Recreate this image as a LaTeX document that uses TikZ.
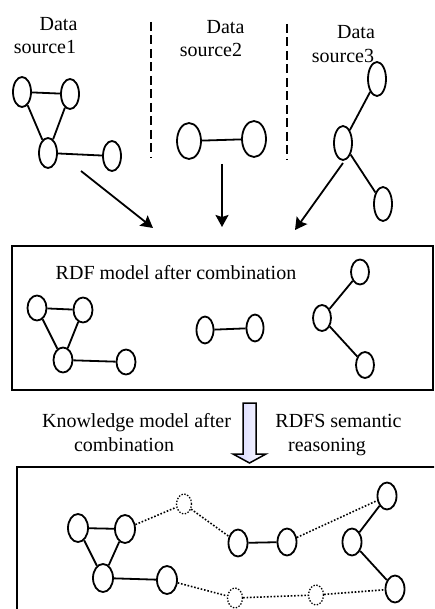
\documentclass[tikz,border=0pt]{standalone}
\usepackage{fontspec}
\setmainfont{Liberation Serif}
\usetikzlibrary{shapes,arrows,positioning,calc,arrows.meta}

\tikzset{
  vtx/.style={ellipse, draw, line width=1.8pt, inner sep=0pt, minimum width=18pt, minimum height=30pt},
  ghost/.style={vtx, line width=1.3pt, dash pattern=on 1.4pt off 1.6pt, minimum width=15pt, minimum height=20pt},
  link/.style={line width=1.8pt},
  dlink/.style={line width=1.6pt, dash pattern=on 1.6pt off 1.8pt},
  flow/.style={line width=1.8pt, -{Stealth[length=12pt,width=13pt,inset=2pt]}},
  txt/.style={anchor=base, inner sep=0pt, font=\fontsize{20}{22}\selectfont},
  frame/.style={line width=2.2pt}
}

\begin{document}
\begin{tikzpicture}[x=1pt,y=-1pt]
    \clip (0,0) rectangle (434,609);

    % Sources
    \node[txt] (d1) at (58.5,31) {Data};
    \node[txt] (s1) at (45,53.3) {source1};
    \node[txt] (d2) at (225.5,33.3) {Data};
    \node[txt] (s2) at (211,56.7) {source2};
    \node[txt] (d3) at (356,38.3) {Data};
    \node[txt] (s3) at (343,62.3) {source3};
    \draw[line width=2.4pt, dash pattern=on 9pt off 4.5pt] (151,22) -- (151,158);
    \draw[line width=2.4pt, dash pattern=on 9pt off 4.5pt] (287,24) -- (287,160);

    \node[vtx] (A) at (22,92) {};
    \node[vtx] (B) at (70,94) {};
    \node[vtx] (C) at (48,153) {};
    \node[vtx] (D) at (112,156) {};
    \draw[link] (A) -- (B) (A) -- (C) (B) -- (C) (C) -- (D);

    \node[vtx, minimum width=24pt, minimum height=36pt] (E) at (189,141) {};
    \node[vtx, minimum width=24pt, minimum height=36pt] (F) at (254,139) {};
    \draw[link] (E) -- (F);

    \node[vtx, minimum height=34pt] (G) at (377,79) {};
    \node[vtx, minimum height=34pt] (H) at (343,143) {};
    \node[vtx, minimum height=34pt] (I) at (383,204) {};
    \draw[link] (G) -- (H) (H) -- (I);

    % Arrows into the merged model
    \coordinate (t1) at (81,171);
    \coordinate (h1) at (153,228);
    \coordinate (t2) at (222,164);
    \coordinate (h2) at (222,227);
    \coordinate (t3) at (343,163);
    \coordinate (h3) at (295,230);
    \draw[flow] (t1) -- (h1);
    \draw[flow] (t2) -- (h2);
    \draw[flow] (t3) -- (h3);

    % RDF model
    \draw[frame] (12,246) rectangle (433,390);
    \node[txt] (rdf) at (176,279.3) {RDF model after combination};

    \node[vtx, minimum width=19pt, minimum height=25pt] (a) at (37,308) {};
    \node[vtx, minimum width=19pt, minimum height=25pt] (b) at (83,310) {};
    \node[vtx, minimum width=19pt, minimum height=25pt] (c) at (63,360) {};
    \node[vtx, minimum width=19pt, minimum height=25pt] (d) at (126,362) {};
    \draw[link] (a) -- (b) (a) -- (c) (b) -- (c) (c) -- (d);

    \node[vtx, minimum width=17pt, minimum height=27pt] (e) at (205,330) {};
    \node[vtx, minimum width=17pt, minimum height=27pt] (f) at (255,328) {};
    \draw[link] (e) -- (f);

    \node[vtx, minimum width=18pt, minimum height=25pt] (g) at (360,272) {};
    \node[vtx, minimum width=18pt, minimum height=26pt] (h) at (322,318) {};
    \node[vtx, minimum width=18pt, minimum height=26pt] (i) at (365,365) {};
    \draw[link] (g) -- (h) (h) -- (i);

    % Reasoning step
    \node[txt] (km1) at (136.5,427.7) {Knowledge model after};
    \node[txt] (km2) at (124,451.7) {combination};
    \node[txt] (rs1) at (338.5,427.7) {RDFS semantic};
    \node[txt] (rs2) at (327,451.7) {reasoning};
    \draw[line width=1.5pt, left color=blue!18, right color=white]
      (243,403) -- (256,403) -- (256,454) -- (266,454) -- (249.5,463)
      -- (233,454) -- (243,454) -- cycle;

    % Knowledge model
    \draw[frame] (17,467) rectangle (460,640);

    \node[vtx, minimum width=20pt, minimum height=28pt] (ka) at (78,528) {};
    \node[vtx, minimum width=20pt, minimum height=28pt] (kb) at (125,529) {};
    \node[vtx, minimum width=20pt, minimum height=28pt] (kc) at (103,578) {};
    \node[vtx, minimum width=20pt, minimum height=28pt] (kd) at (167,580) {};
    \draw[link] (ka) -- (kb) (ka) -- (kc) (kb) -- (kc) (kc) -- (kd);

    \node[ghost] (p1) at (184,504) {};
    \node[vtx, minimum width=19pt, minimum height=27pt] (ke) at (238,543) {};
    \node[vtx, minimum width=19pt, minimum height=27pt] (kf) at (287,542) {};
    \draw[link] (ke) -- (kf);

    \node[vtx, minimum width=19pt, minimum height=27pt] (kg) at (387,496) {};
    \node[vtx, minimum width=19pt, minimum height=27pt] (kh) at (352,542) {};
    \node[vtx, minimum width=19pt, minimum height=27pt] (ki) at (395,589) {};
    \draw[link] (kg) -- (kh) (kh) -- (ki);

    \node[ghost] (q1) at (235,598) {};
    \node[ghost] (q2) at (316,595) {};

    \draw[dlink] (kb) -- (p1) (p1) -- (ke) (kf) -- (kg);
    \draw[dlink] (kd) -- (q1) (q1) -- (q2) (q2) -- (ki);
\end{tikzpicture}
\end{document}
